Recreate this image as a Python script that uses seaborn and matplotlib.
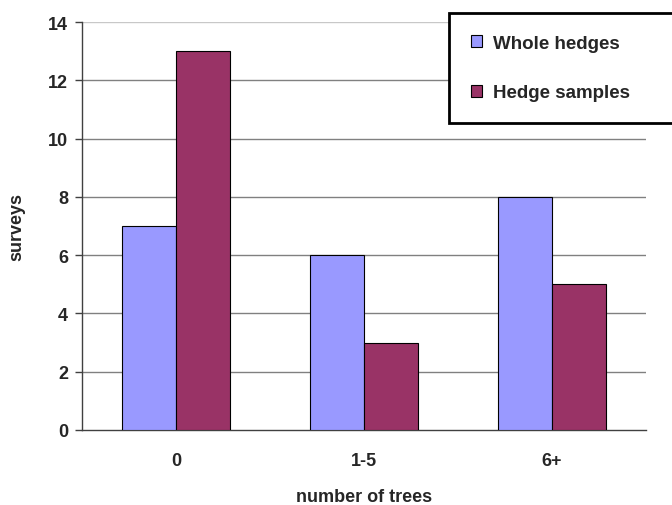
import pandas as pd
import matplotlib
matplotlib.use("Agg")
import matplotlib.pyplot as plt
import seaborn as sns

# values
categories = ['0', '1-5', '6+']
whole_hedges = [7, 6, 8]
hedge_samples = [13, 3, 5]
series_names = ['Whole hedges', 'Hedge samples']
colors = ['#9999FF', '#993366']

df = pd.DataFrame({
    'trees': categories * 2,
    'surveys': whole_hedges + hedge_samples,
    'series': [series_names[0]] * 3 + [series_names[1]] * 3,
})

sns.set_style('white')
plt.rcParams['font.family'] = ['Liberation Sans', 'DejaVu Sans']
plt.rcParams['font.weight'] = 'bold'

fig = plt.figure(figsize=(6.72, 5.06), dpi=100)
ax = fig.add_axes([82 / 672, 1 - 431 / 506, 564 / 672, 408 / 506])

sns.barplot(data=df, x='trees', y='surveys', hue='series', palette=colors,
            width=0.575, gap=0, edgecolor='black', linewidth=0.8,
            saturation=1, ax=ax, legend=False, zorder=3)

ax.set_ylim(0, 14)
ax.set_yticks(range(0, 15, 2))
ax.set_xlim(-0.5, 2.5)
for y in range(2, 14, 2):
    ax.axhline(y, color='#808080', linewidth=1, zorder=1)
ax.axhline(14, color='#c8c8c8', linewidth=1, zorder=1)

for s in ['top', 'right']:
    ax.spines[s].set_visible(False)
for s in ['left', 'bottom']:
    ax.spines[s].set_color('#404040')
    ax.spines[s].set_linewidth(1)

ax.tick_params(axis='y', length=5, width=1, color='#404040', left=True,
               labelsize=13, pad=5)
ax.tick_params(axis='x', length=0, labelsize=13, pad=16)
for lbl in ax.get_xticklabels() + ax.get_yticklabels():
    lbl.set_fontweight('bold')

ax.set_xlabel('number of trees', fontsize=13, fontweight='bold')
ax.xaxis.set_label_coords(0.5, -0.142)
ax.set_ylabel('surveys', fontsize=13, fontweight='bold', labelpad=16)

handles = [plt.Rectangle((0, 0), 1, 1, facecolor=c, edgecolor='black', linewidth=0.8)
           for c in colors]
leg = fig.legend(handles, series_names, loc='upper left',
                 bbox_to_anchor=(449 / 672, 1 - 124 / 506, 240 / 672, 110 / 506),
                 mode='expand',
                 frameon=True, fancybox=False, framealpha=1, edgecolor='black',
                 prop={'weight': 'bold', 'size': 13.5}, handlelength=0.6,
                 handleheight=0.6, handletextpad=0.6, labelspacing=1.75,
                 borderpad=1.15, borderaxespad=0)
leg.get_frame().set_linewidth(2)

fig.savefig('out.png', dpi=100)
